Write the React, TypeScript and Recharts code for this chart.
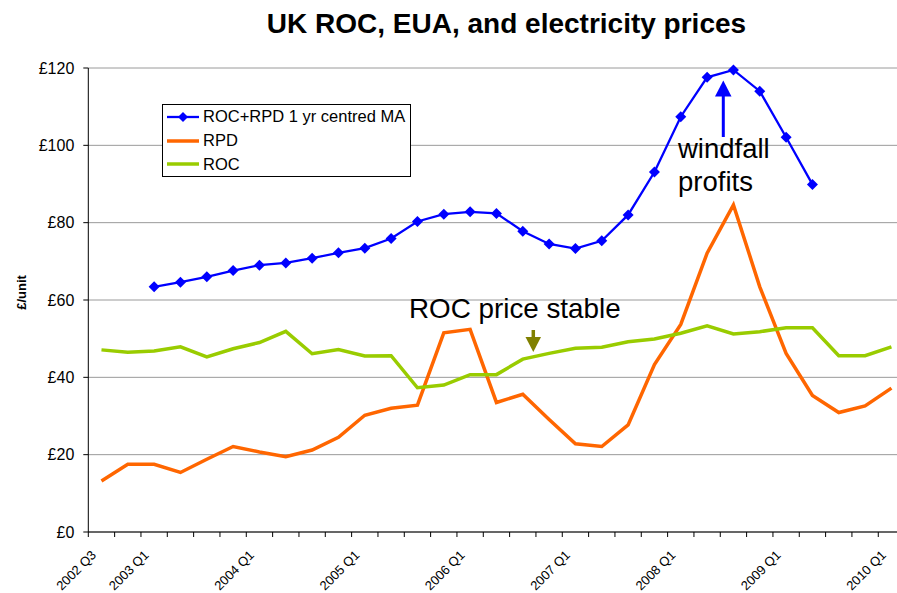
import { LineChart, Line, XAxis, YAxis, CartesianGrid, Legend } from 'recharts';

// quarterly categories, 2002 Q3 .. 2010 Q1
const quarters = [
  '2002 Q3', '2002 Q4',
  '2003 Q1', '2003 Q2', '2003 Q3', '2003 Q4',
  '2004 Q1', '2004 Q2', '2004 Q3', '2004 Q4',
  '2005 Q1', '2005 Q2', '2005 Q3', '2005 Q4',
  '2006 Q1', '2006 Q2', '2006 Q3', '2006 Q4',
  '2007 Q1', '2007 Q2', '2007 Q3', '2007 Q4',
  '2008 Q1', '2008 Q2', '2008 Q3', '2008 Q4',
  '2009 Q1', '2009 Q2', '2009 Q3', '2009 Q4',
  '2010 Q1',
];

const maValues = [
  null, null, 63.4, 64.6, 66.0, 67.6, 69.0, 69.6, 70.8, 72.2,
  73.4, 75.9, 80.3, 82.2, 82.8, 82.4, 77.8, 74.5, 73.3, 75.3,
  82.0, 93.1, 107.4, 117.6, 119.5, 114.0, 102.1, 89.9, null, null, null,
];

const rpdValues = [
  13.2, 17.5, 17.5, 15.4, 18.8, 22.1, 20.7, 19.5, 21.2, 24.5,
  30.2, 32.0, 32.8, 51.5, 52.4, 33.5, 35.6, 29.1, 22.8, 22.1,
  27.7, 43.3, 53.7, 72.1, 84.6, 63.4, 46.2, 35.3, 30.9, 32.6, 37.2,
];

const rocValues = [
  47.1, 46.5, 46.8, 47.9, 45.3, 47.4, 49.0, 51.9, 46.1, 47.2,
  45.5, 45.6, 37.3, 38.0, 40.7, 40.7, 44.7, 46.2, 47.5, 47.8,
  49.2, 49.9, 51.4, 53.3, 51.2, 51.8, 52.8, 52.8, 45.6, 45.6, 47.9,
];

const yTicks = [0, 20, 40, 60, 80, 100, 120];

const seriesNames = ['ROC+RPD 1 yr centred MA', 'RPD', 'ROC'];

const data = quarters.map((q, i) => ({
  i,
  q,
  ma: maValues[i],
  rpd: rpdValues[i],
  roc: rocValues[i],
}));

// tick marks sit between the categories, like Excel
const boundaries = quarters.map((_, i) => i - 0.5).concat(quarters.length - 0.5);

const CHART_W = 910;
const CHART_H = 593;
const MARGIN = { top: 68, right: 5.4, bottom: 0, left: 0 };
const Y_AXIS_W = 88.3;
const HALF_BAND = (CHART_W - MARGIN.right - Y_AXIS_W) / quarters.length / 2;

const FONT = '"Liberation Sans", Arial, sans-serif';

function QuarterTick(props: any) {
  const { x, y, payload } = props;
  const idx = Math.round(payload.value + 0.5);
  const label = quarters[idx];
  if (!label || !(idx === 0 || label.endsWith('Q1'))) return <g />;
  const ax = x + HALF_BAND - 4.5;
  const ay = y + 16.8;
  return (
    <text
      x={ax}
      y={ay}
      textAnchor="end"
      fontSize={13}
      fill="#000"
      transform={`rotate(-45, ${ax}, ${ay})`}
    >
      {label}
    </text>
  );
}

function Diamond(props: any) {
  const { cx, cy, index } = props;
  if (cy == null || isNaN(cy)) return <g key={index} />;
  const r = 5.5;
  return (
    <polygon
      key={index}
      points={`${cx},${cy - r} ${cx + r},${cy} ${cx},${cy + r} ${cx - r},${cy}`}
      fill="#0000FF"
    />
  );
}

function renderLegend(props: any) {
  const items = [...(props.payload || [])].sort(
    (a: any, b: any) => seriesNames.indexOf(a.value) - seriesNames.indexOf(b.value),
  );
  return (
    <div
      style={{
        border: '1px solid #000',
        background: '#fff',
        boxSizing: 'border-box',
        width: 249,
        height: 73,
        fontSize: 16.5,
        fontFamily: FONT,
        color: '#000',
      }}
    >
      {items.map((entry: any) => {
        const isMa = entry.value === seriesNames[0];
        return (
          <div key={entry.value} style={{ display: 'flex', alignItems: 'center', height: 23.7 }}>
            <svg width={32} height={12} style={{ marginLeft: 4, marginRight: 4 }}>
              <line x1={0} y1={6} x2={32} y2={6} stroke={entry.color} strokeWidth={isMa ? 2.3 : 3.5} />
              {isMa && <polygon points="16,1 21,6 16,11 11,6" fill={entry.color} />}
            </svg>
            <span>{entry.value}</span>
          </div>
        );
      })}
    </div>
  );
}

export default function App() {
  return (
    <div
      style={{
        position: 'absolute',
        left: 0,
        top: 0,
        width: 897,
        height: 593,
        overflow: 'hidden',
        background: '#fff',
        fontFamily: FONT,
      }}
    >
      <LineChart width={CHART_W} height={CHART_H} data={data} margin={MARGIN}>
        <CartesianGrid vertical={false} stroke="#9a9a9a" />
        <XAxis
          dataKey="i"
          type="number"
          domain={[-0.5, quarters.length - 0.5]}
          ticks={boundaries}
          interval={0}
          allowDataOverflow
          height={61}
          tickSize={5}
          axisLine={{ stroke: '#000' }}
          tickLine={{ stroke: '#000' }}
          tick={<QuarterTick />}
        />
        <YAxis
          domain={[0, 120]}
          ticks={yTicks}
          interval={0}
          width={Y_AXIS_W}
          tickSize={5}
          tickMargin={9}
          axisLine={{ stroke: '#000' }}
          tickLine={{ stroke: '#000' }}
          tick={{ fill: '#000', fontSize: 16 }}
          tickFormatter={(v: number) => `£${v}`}
        />
        <Legend
          layout="vertical"
          verticalAlign="middle"
          align="center"
          wrapperStyle={{ left: 162, top: 104, width: 249, height: 73 }}
          content={renderLegend}
        />
        <Line
          name={seriesNames[0]}
          dataKey="ma"
          stroke="#0000FF"
          strokeWidth={2.3}
          dot={Diamond}
          activeDot={false}
          isAnimationActive={false}
        />
        <Line
          name={seriesNames[1]}
          dataKey="rpd"
          stroke="#FF6600"
          strokeWidth={3.5}
          dot={false}
          activeDot={false}
          isAnimationActive={false}
        />
        <Line
          name={seriesNames[2]}
          dataKey="roc"
          stroke="#99CC00"
          strokeWidth={3.5}
          dot={false}
          activeDot={false}
          isAnimationActive={false}
        />
      </LineChart>

      <svg
        width={897}
        height={593}
        style={{ position: 'absolute', left: 0, top: 0, pointerEvents: 'none' }}
      >
        <text x={506.5} y={33.3} textAnchor="middle" fontSize={28} fontWeight="bold" fill="#000">
          UK ROC, EUA, and electricity prices
        </text>
        <text x={26} y={292.5} textAnchor="middle" fontSize={13} fontWeight="bold" fill="#000" transform="rotate(-90, 26, 292.5)">
          £/unit
        </text>
        <text x={409} y={318.3} fontSize={27.8} fill="#000">ROC price stable</text>
        <line x1={533.3} y1={330} x2={533.3} y2={338} stroke="#808000" strokeWidth={3.5} />
        <polygon points="525.5,337 541,337 533.3,352" fill="#808000" />
        <text x={678} y={158.3} fontSize={27.5} fill="#000">windfall</text>
        <text x={678} y={190.5} fontSize={27.5} fill="#000">profits</text>
        <line x1={723.3} y1={137} x2={723.3} y2={95} stroke="#0000FF" strokeWidth={3} />
        <polygon points="715,96.5 731.5,96.5 723.3,80.5" fill="#0000FF" />
      </svg>
    </div>
  );
}
